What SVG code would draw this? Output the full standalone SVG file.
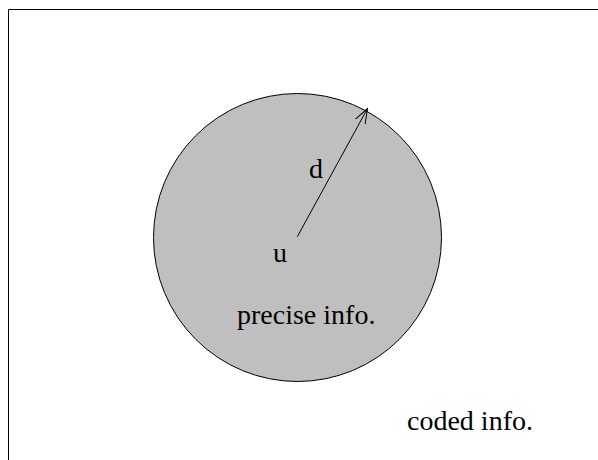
<svg xmlns="http://www.w3.org/2000/svg" width="598" height="460" viewBox="0 0 598 460">
<style>
.t{font-family:"Liberation Serif","Times New Roman",serif;font-size:28px;fill:#000}
.ln{stroke:#000;stroke-width:1;fill:none}
</style>
<defs>
<marker id="ah" viewBox="0 0 16 12" refX="15" refY="6" markerWidth="16" markerHeight="12" markerUnits="userSpaceOnUse" orient="auto">
<path d="M0,0.5 L15,6 L0,11.5" fill="none" stroke="#000" stroke-width="1"/>
</marker>
</defs>
<rect width="598" height="460" fill="#fff"/>
<g id="frame">
<path class="ln" d="M8.5,460 V9.5 H598" stroke-width="1.2"/>
</g>
<g id="precise">
<circle cx="297.5" cy="237.5" r="144" fill="#bfbfbf" stroke="#000" stroke-width="1"/>
<text class="t" x="237" y="324">precise info.</text>
</g>
<g id="u">
<text class="t" x="273" y="262">u</text>
</g>
<g id="coded">
<text class="t" x="407" y="430">coded info.</text>
</g>
<g id="connectors">
<line class="ln" x1="297.3" y1="236.7" x2="367.5" y2="108.5" marker-end="url(#ah)"/>
<text class="t" x="309" y="178">d</text>
</g>
</svg>
